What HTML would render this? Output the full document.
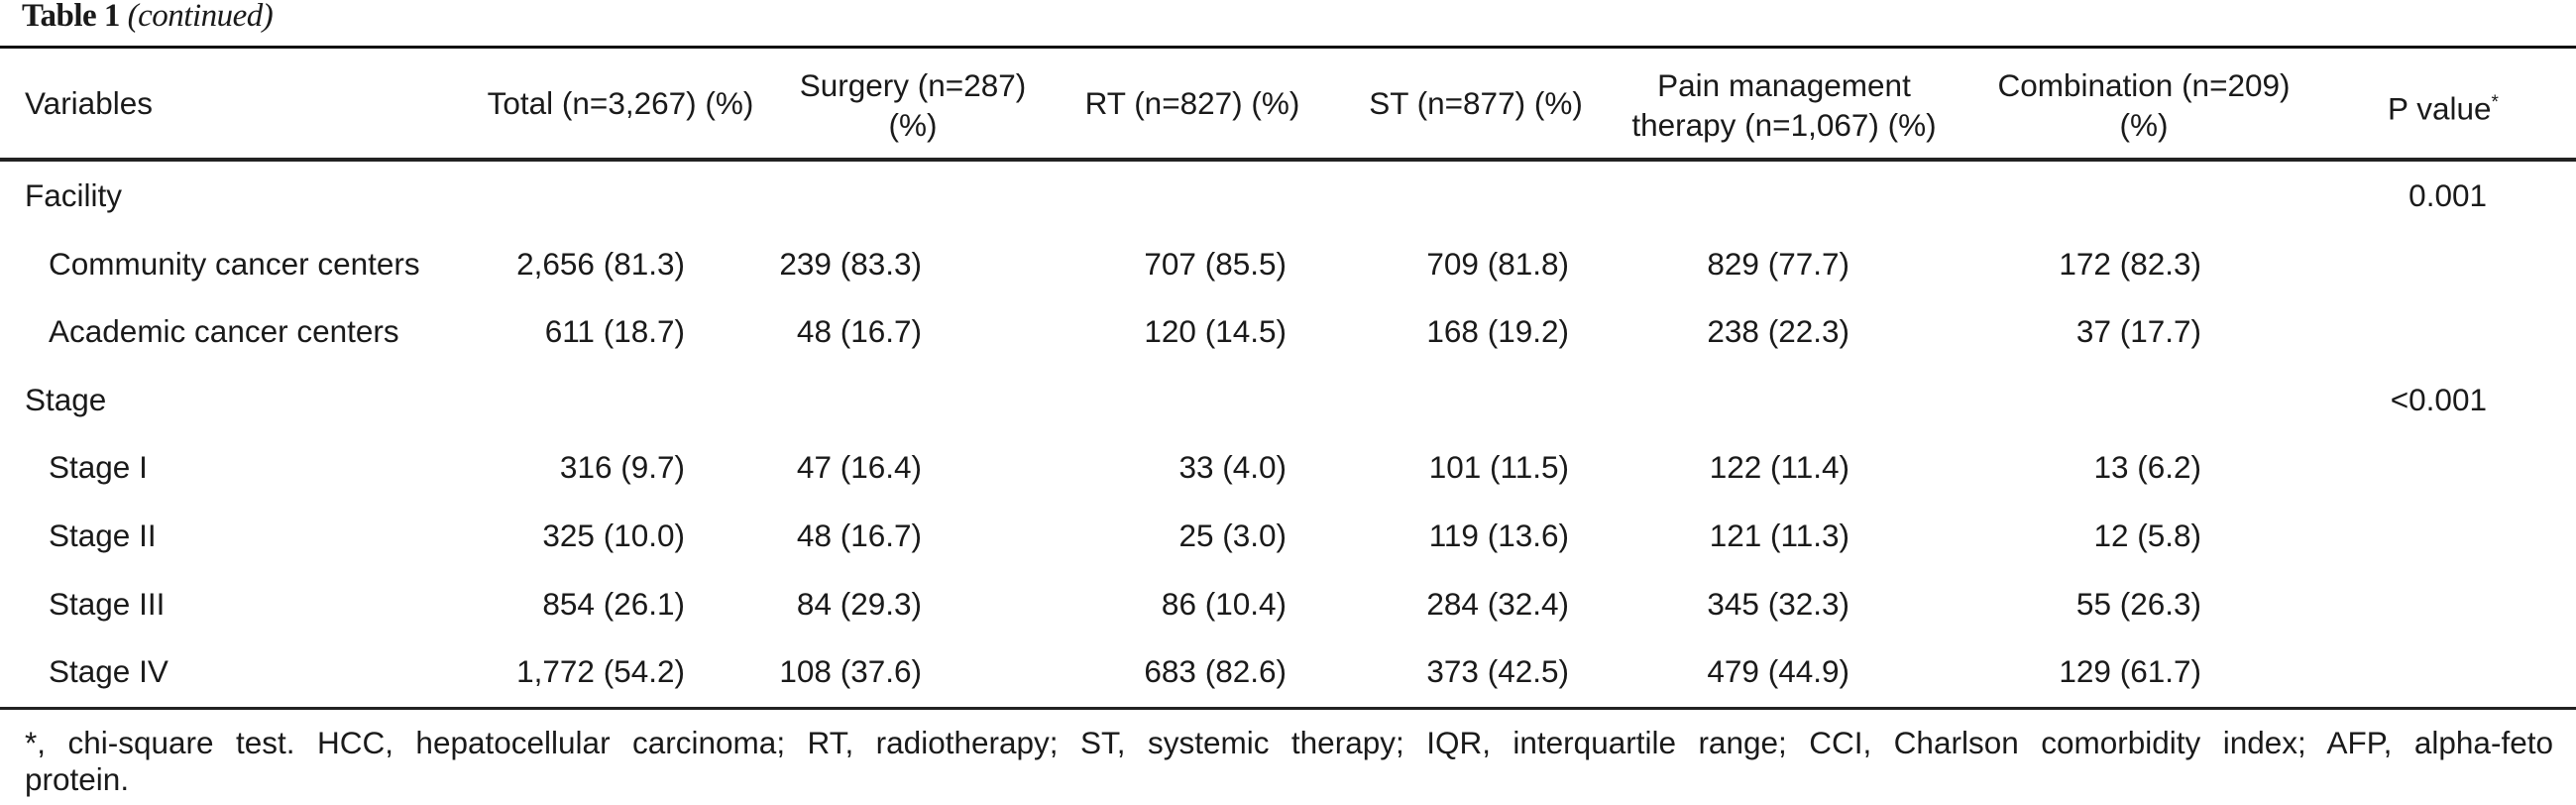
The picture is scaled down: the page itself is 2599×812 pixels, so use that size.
<!DOCTYPE html>
<html><head><meta charset="utf-8">
<style>
html,body{margin:0;padding:0;background:#fff;}
#page{position:relative;width:2599px;height:812px;overflow:hidden;background:#fff;font-family:"Liberation Sans",Arial,sans-serif;font-size:31.5px;color:#1a1a1a;}
.t{position:absolute;white-space:nowrap;line-height:36px;height:36px;}
.r{text-align:right;}
.c{text-align:center;}
.rule{position:absolute;left:0;width:2599px;background:#111;}
</style></head>
<body>
<div id="page">
  <div class="t" style="left:22px;top:-2px;font-family:'Liberation Serif',serif;font-size:33px;letter-spacing:-0.5px;"><b>Table 1</b> <i>(continued)</i></div>
  <div class="rule" style="top:46px;height:3px;"></div>
  <div class="rule" style="top:159px;height:4px;background:#222;"></div>
  <div class="rule" style="top:713px;height:3px;background:#222;"></div>

  <div class="t" style="left:25px;top:86px;">Variables</div>
  <div class="t c" style="left:446px;width:360px;top:86px;">Total (n=3,267) (%)</div>
  <div class="t c" style="left:741px;width:360px;top:66px;line-height:40px;height:80px;">Surgery (n=287)<br>(%)</div>
  <div class="t c" style="left:1023px;width:360px;top:86px;">RT (n=827) (%)</div>
  <div class="t c" style="left:1309px;width:360px;top:86px;">ST (n=877) (%)</div>
  <div class="t c" style="left:1600px;width:400px;top:66px;line-height:40px;height:80px;">Pain management<br>therapy (n=1,067) (%)</div>
  <div class="t c" style="left:1963px;width:400px;top:66px;line-height:40px;height:80px;">Combination (n=209)<br>(%)</div>
  <div class="t c" style="left:2365px;width:200px;top:86px;">P value<sup style="font-size:19px;">*</sup></div>

  <div id="rows"></div>

  <div class="t" style="left:25px;top:731px;width:2551px;white-space:normal;overflow:hidden;text-align:justify;text-align-last:justify;">*, chi-square test. HCC, hepatocellular carcinoma; RT, radiotherapy; ST, systemic therapy; IQR, interquartile range; CCI, Charlson comorbidity index; AFP, alpha-feto</div>
  <div class="t" style="left:25px;top:768px;">protein.</div>
</div>
<script>
const rowLabels = ["Facility","Community cancer centers","Academic cancer centers","Stage","Stage I","Stage II","Stage III","Stage IV"];
const rowIndent = [0,1,1,0,1,1,1,1];
const totalVals = ["","2,656 (81.3)","611 (18.7)","","316 (9.7)","325 (10.0)","854 (26.1)","1,772 (54.2)"];
const surgeryVals = ["","239 (83.3)","48 (16.7)","","47 (16.4)","48 (16.7)","84 (29.3)","108 (37.6)"];
const rtVals = ["","707 (85.5)","120 (14.5)","","33 (4.0)","25 (3.0)","86 (10.4)","683 (82.6)"];
const stVals = ["","709 (81.8)","168 (19.2)","","101 (11.5)","119 (13.6)","284 (32.4)","373 (42.5)"];
const painVals = ["","829 (77.7)","238 (22.3)","","122 (11.4)","121 (11.3)","345 (32.3)","479 (44.9)"];
const comboVals = ["","172 (82.3)","37 (17.7)","","13 (6.2)","12 (5.8)","55 (26.3)","129 (61.7)"];
const pVals = ["0.001","","","<0.001","","","",""];

const cols = [
  {vals: totalVals, right: 691},
  {vals: surgeryVals, right: 930},
  {vals: rtVals, right: 1298},
  {vals: stVals, right: 1583},
  {vals: painVals, right: 1866},
  {vals: comboVals, right: 2221},
  {vals: pVals, right: 2509}
];
const host = document.getElementById('rows');
const rowTop0 = 179, rowStep = 68.6;
rowLabels.forEach((lab, i) => {
  const y = rowTop0 + i * rowStep;
  const d = document.createElement('div');
  d.className = 't';
  d.style.left = (rowIndent[i] ? 49 : 25) + 'px';
  d.style.top = y + 'px';
  d.textContent = lab;
  
  
  host.appendChild(d);
  cols.forEach(c => {
    const v = c.vals[i];
    if (!v) return;
    const e = document.createElement('div');
    e.className = 't r';
    e.style.left = (c.right - 300) + 'px';
    e.style.width = '300px';
    e.style.top = y + 'px';
    e.textContent = v;
    
    
    host.appendChild(e);
  });
});
</script>
</body></html>
